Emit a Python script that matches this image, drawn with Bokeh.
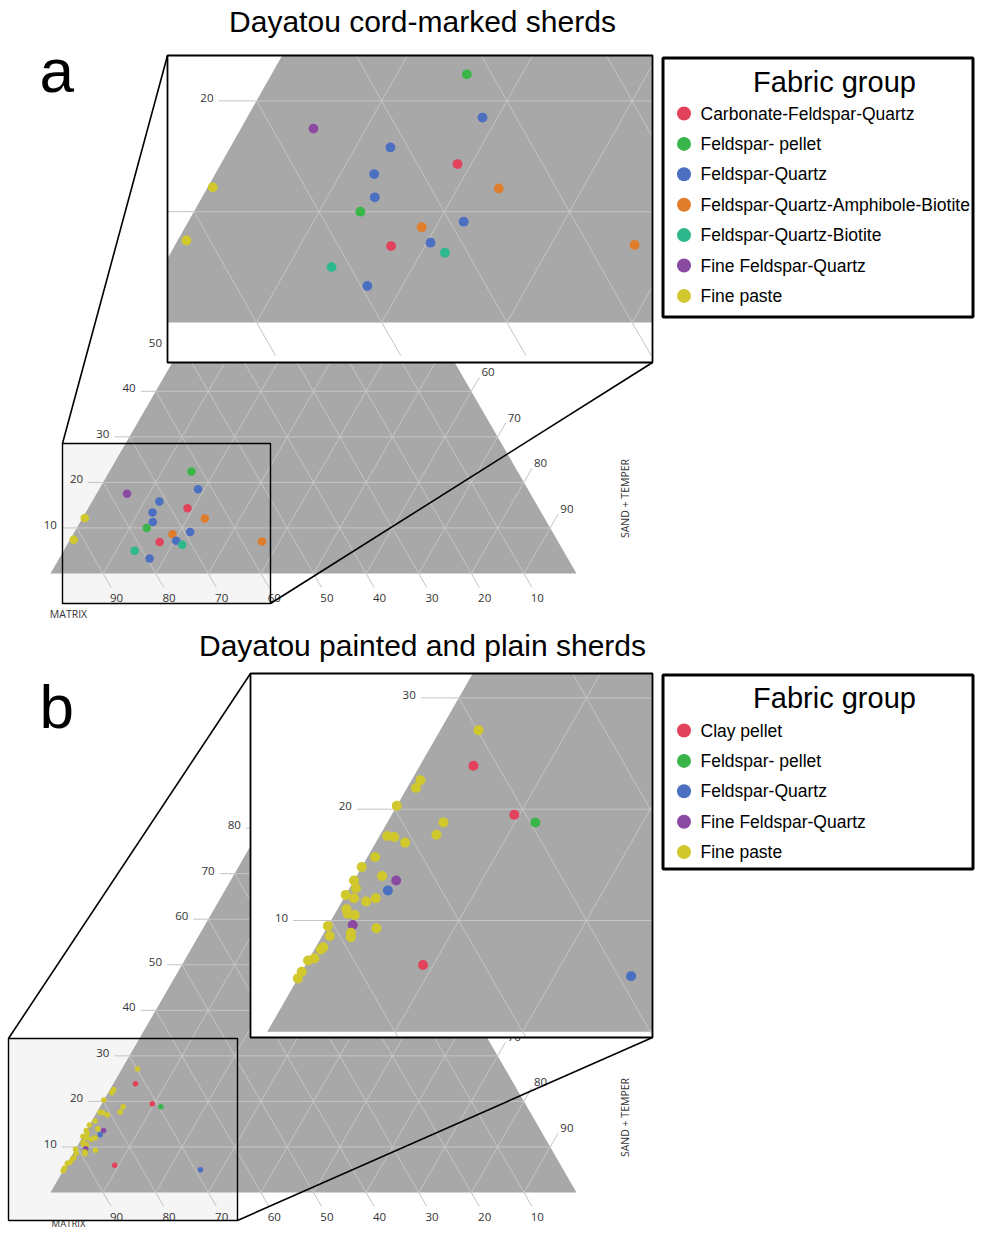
import numpy as np
from bokeh.plotting import figure
from bokeh.models import Range1d
from bokeh.core.properties import value
from bokeh.embed import file_html
from bokeh.resources import INLINE

# ------------------------------------------------------------------ data
# ternary values (percent): apex component, SAND + TEMPER; MATRIX = 100 - apex - sand
groups_a = ["Feldspar- pellet", "Feldspar-Quartz", "Fine Feldspar-Quartz", "Feldspar-Quartz",
            "Carbonate-Feldspar-Quartz", "Feldspar-Quartz", "Fine paste",
            "Feldspar-Quartz-Amphibole-Biotite", "Feldspar-Quartz", "Feldspar- pellet",
            "Feldspar-Quartz", "Feldspar-Quartz-Amphibole-Biotite", "Fine paste", "Feldspar-Quartz",
            "Carbonate-Feldspar-Quartz", "Feldspar-Quartz-Biotite",
            "Feldspar-Quartz-Amphibole-Biotite", "Feldspar-Quartz-Biotite", "Feldspar-Quartz"]
apex_a = [22.4, 18.5, 17.5, 15.8, 14.3, 13.4, 12.2, 12.1, 11.3, 10.0, 9.1, 8.6, 7.4, 7.2, 6.9, 6.3, 7.0, 5.0, 3.3]
sand_a = [15.6, 18.8, 5.8, 12.8, 18.9, 12.7, 0.4, 23.3, 13.8, 13.3, 22.0, 18.9, 0.7, 20.3, 17.3, 21.9, 36.7, 13.5, 17.2]

FP, CP, FPEL, FQ, FFQ = "Fine paste", "Clay pellet", "Feldspar- pellet", "Feldspar-Quartz", "Fine Feldspar-Quartz"
groups_b = [FP, CP, FP, FP, FP, CP, FPEL, FP, FP, FP,
            FP, FP, FP, FP, FP, FFQ, FP, FP, FQ, FP,
            FP, FP, FP, FP, FP, FP, FP, FFQ, FP, FP,
            FP, FP, FP, FP, FP, FP, FP, FP, CP, FQ]
apex_b = [27.1, 23.9, 22.6, 21.9, 20.3, 19.5, 18.8, 18.8, 17.7, 17.6,
          17.5, 17.0, 15.7, 14.8, 14.0, 13.6, 13.6, 12.9, 12.7, 12.3,
          12.0, 11.7, 12.0, 11.0, 10.6, 10.5, 9.5, 9.6, 9.3, 8.9,
          8.5, 8.6, 7.6, 7.4, 6.6, 6.4, 5.4, 4.8, 6.0, 5.0]
sand_b = [3.0, 4.2, 0.7, 0.7, 0.0, 9.6, 11.6, 4.4, 4.4, 0.6,
          1.2, 2.3, 0.6, 0.0, 2.0, 3.3, 0.0, 0.5, 3.1, 0.0,
          0.8, 1.9, 2.5, 0.7, 1.0, 1.6, 0.0, 1.9, 3.9, 2.1,
          2.3, 0.6, 0.6, 0.5, 0.4, 0.0, 0.0, 0.0, 9.2, 26.0]

legend_a = ["Carbonate-Feldspar-Quartz", "Feldspar- pellet", "Feldspar-Quartz",
            "Feldspar-Quartz-Amphibole-Biotite", "Feldspar-Quartz-Biotite",
            "Fine Feldspar-Quartz", "Fine paste"]
legend_b = ["Clay pellet", "Feldspar- pellet", "Feldspar-Quartz", "Fine Feldspar-Quartz", "Fine paste"]

colors = {
    "Carbonate-Feldspar-Quartz": "#e2425c",
    "Clay pellet": "#e2425c",
    "Feldspar- pellet": "#3ab54a",
    "Feldspar-Quartz": "#4b6fc1",
    "Feldspar-Quartz-Amphibole-Biotite": "#e07d2c",
    "Feldspar-Quartz-Biotite": "#2db98d",
    "Fine Feldspar-Quartz": "#8a4aa2",
    "Fine paste": "#d0c82c",
}
tick_values = [10, 20, 30, 40, 50, 60, 70, 80, 90]
title_a = "Dayatou cord-marked sherds"
title_b = "Dayatou painted and plain sherds"

# ------------------------------------------------------------------ helpers
GRAY = "#a8a8a8"
GRID = "#c8c8c8"
TICK = "#c4c4c4"
LABEL = "#333333"
SANS = value("Liberation Sans")
TFONT = value("Open Sans")


def to_xy(h, s, T):
    ox, oy, kx, ky = T
    h = np.asarray(h, float)
    s = np.asarray(s, float)
    return ox + (s + h / 2.0) * kx, oy - h * ky


def clip_seg(x0, y0, x1, y1, box):
    if box is None:
        return (x0, y0, x1, y1)
    xmin, ymin, xmax, ymax = box
    dx, dy = x1 - x0, y1 - y0
    t0, t1 = 0.0, 1.0
    for pp, qq in ((-dx, x0 - xmin), (dx, xmax - x0), (-dy, y0 - ymin), (dy, ymax - y0)):
        if pp == 0:
            if qq < 0:
                return None
        else:
            t = qq / pp
            if pp < 0:
                t0 = max(t0, t)
            else:
                t1 = min(t1, t)
    if t0 >= t1:
        return None
    return (x0 + t0 * dx, y0 + t0 * dy, x0 + t1 * dx, y0 + t1 * dy)


def clip_poly(xs, ys, box):
    pts = list(zip(xs, ys))
    if box is None:
        return [p[0] for p in pts], [p[1] for p in pts]
    xmin, ymin, xmax, ymax = box

    def clip(pts, inside, inter):
        out = []
        n = len(pts)
        for i in range(n):
            cur, prev = pts[i], pts[i - 1]
            if inside(cur):
                if not inside(prev):
                    out.append(inter(prev, cur))
                out.append(cur)
            elif inside(prev):
                out.append(inter(prev, cur))
        return out

    def ix(a, b, xc):
        t = (xc - a[0]) / (b[0] - a[0])
        return (xc, a[1] + t * (b[1] - a[1]))

    def iy(a, b, yc):
        t = (yc - a[1]) / (b[1] - a[1])
        return (a[0] + t * (b[0] - a[0]), yc)

    pts = clip(pts, lambda q: q[0] >= xmin, lambda a, b: ix(a, b, xmin))
    pts = clip(pts, lambda q: q[0] <= xmax, lambda a, b: ix(a, b, xmax))
    pts = clip(pts, lambda q: q[1] >= ymin, lambda a, b: iy(a, b, ymin))
    pts = clip(pts, lambda q: q[1] <= ymax, lambda a, b: iy(a, b, ymax))
    return [p[0] for p in pts], [p[1] for p in pts]


def inside(x, y, box, mx=0, my=0):
    if box is None:
        return True
    xmin, ymin, xmax, ymax = box
    return xmin + mx <= x <= xmax - mx and ymin + my <= y <= ymax - my


def draw_ternary(p, T, groups, apex, sand, dot, box=None, tick_len=15, f=1.0):
    # triangle
    tx, ty = to_xy([0, 0, 100], [0, 100, 0], T)
    cx, cy = clip_poly(list(tx), list(ty), box)
    if cx:
        p.patch(cx, cy, fill_color=GRAY, line_color=None)
    # grid
    gx, gy = [], []
    for v in tick_values:
        for (h0, s0, h1, s1) in ((v, 0, v, 100 - v), (0, v, 100 - v, v), (0, 100 - v, 100 - v, 0)):
            (x0, x1), (y0, y1) = to_xy([h0, h1], [s0, s1], T)
            c = clip_seg(x0, y0, x1, y1, box)
            if c:
                gx.append([c[0], c[2]])
                gy.append([c[1], c[3]])
    p.multi_line(gx, gy, line_color=GRID, line_width=0.9)
    # ticks + labels
    kx, ky = [], []
    lx, ly, lt = [], [], []
    bx, by, bt = [], [], []
    rx, ry, rt = [], [], []
    c60, s60 = 0.5, np.sqrt(3) / 2
    for v in tick_values:
        # left (apex) axis
        x, y = to_xy(v, 0, T)
        x, y = float(x), float(y)
        c = clip_seg(x - tick_len, y, x, y, box)
        if c:
            kx.append([c[0], c[2]]); ky.append([c[1], c[3]])
        ax, ay = x - tick_len - 5, y + 1
        if inside(ax - 14, ay - 8, box) and inside(ax, ay, box):
            lx.append(ax); ly.append(ay); lt.append(str(v))
        # bottom (matrix) axis
        x, y = to_xy(0, 100 - v, T)
        x, y = float(x), float(y)
        c = clip_seg(x, y, x + c60 * 16 * f, y + s60 * 16 * f, box)
        if c:
            kx.append([c[0], c[2]]); ky.append([c[1], c[3]])
        ax, ay = x + 13.4 * f, y + 24.5 * f
        if inside(ax, ay, box, 7, 5):
            bx.append(ax); by.append(ay); bt.append(str(v))
        # right (sand + temper) axis
        x, y = to_xy(100 - v, v, T)
        x, y = float(x), float(y)
        c = clip_seg(x, y, x + c60 * 16 * f, y - s60 * 16 * f, box)
        if c:
            kx.append([c[0], c[2]]); ky.append([c[1], c[3]])
        ax, ay = x + 16.7 * f, y - 19 * f
        if inside(ax, ay, box, 7, 5):
            rx.append(ax); ry.append(ay); rt.append(str(v))
    p.multi_line(kx, ky, line_color=TICK, line_width=1)
    p.text(lx, ly, text=lt, text_align="right", text_baseline="bottom",
           text_font=TFONT, text_font_size="11.5px", text_color=LABEL)
    p.text(bx + rx, by + ry, text=bt + rt, text_align="center", text_baseline="middle",
           text_font=TFONT, text_font_size="11.5px", text_color=LABEL)
    # points
    px, py = to_xy(apex, sand, T)
    keep = [i for i in range(len(px)) if inside(px[i], py[i], box)]
    p.scatter([px[i] for i in keep], [py[i] for i in keep], size=dot,
              fill_color=[colors[groups[i]] for i in keep], line_color=None)


def draw_legend(p, top, bottom, entries, title_mid, first_row):
    p.quad(left=[662.5], right=[972.5], top=[top], bottom=[bottom], fill_color="white",
           line_color="black", line_width=3)
    p.text([834], [title_mid], text=["Fabric group"], text_align="center", text_baseline="middle",
           text_font=SANS, text_font_size="29px", text_color="black")
    ys = [first_row + 30.4 * i for i in range(len(entries))]
    p.scatter([683.5] * len(entries), ys, size=14, fill_color=[colors[e] for e in entries], line_color=None)
    p.text([700] * len(entries), ys, text=entries, text_align="left", text_baseline="middle",
           text_font=SANS, text_font_size="17.5px", text_color="black")


# data coordinates equal picture pixels
p = figure(width=975, height=1230, x_range=Range1d(0, 975), y_range=Range1d(1230, 0),
           output_backend="svg", toolbar_location=None, min_border=0,
           x_axis_location=None, y_axis_location=None)
p.grid.visible = False
p.outline_line_color = None
p.background_fill_color = "white"

panels = [
    dict(T=(50, 573, 5.26, 4.555), TI=(130.8, 322, 12.52, 11.08),
         small=(61, 443, 270, 603), big=(167, 55, 652, 362),
         g=groups_a, h=apex_a, s=sand_a, dot_main=8.5, dot_in=9.8,
         title=title_a, title_y=21, letter="a", letter_y=70,
         leg=legend_a, leg_top=57.5, leg_bot=316.5, leg_title=81, leg_row=113,
         matrix_y=613, matrix_fs="10.5px"),
    dict(T=(50, 1192, 5.26, 4.555), TI=(266.7, 1031.3, 12.77, 11.13),
         small=(7, 1038, 237, 1220), big=(250, 673, 652, 1037),
         g=groups_b, h=apex_b, s=sand_b, dot_main=5.5, dot_in=10,
         title=title_b, title_y=645, letter="b", letter_y=706,
         leg=legend_b, leg_top=674.5, leg_bot=868.5, leg_title=697, leg_row=730,
         matrix_y=1223, matrix_fs="9.5px"),
]

for P in panels:
    sx0, sy0, sx1, sy1 = P["small"]
    bx0, by0, bx1, by1 = P["big"]
    oy = P["T"][1]
    # light highlight of the zoomed area
    p.quad(left=[sx0], right=[sx1], top=[sy0], bottom=[sy1], fill_color="#f5f5f5", line_color=None)
    # main ternary
    draw_ternary(p, P["T"], P["g"], P["h"], P["s"], P["dot_main"])
    p.text([68], [P["matrix_y"]], text=["MATRIX"], text_align="center", text_baseline="middle",
           text_font=TFONT, text_font_size=P["matrix_fs"], text_color=LABEL)
    p.text([624], [oy - 75], text=["SAND + TEMPER"], angle=np.pi / 2, text_align="center",
           text_baseline="middle", text_font=TFONT, text_font_size="10.5px", text_color=LABEL)
    # small box + connectors
    p.quad(left=[sx0 + 1], right=[sx1], top=[sy0], bottom=[sy1], fill_color=None,
           line_color="black", line_width=1.4)
    p.multi_line([[sx0 + 1, bx0], [sx1, bx1]], [[sy0, by0], [sy1, by1]], line_color="black", line_width=1.6)
    # inset
    p.quad(left=[bx0], right=[bx1], top=[by0], bottom=[by1], fill_color="white", line_color=None)
    f = P["TI"][2] / P["T"][2]
    draw_ternary(p, P["TI"], P["g"], P["h"], P["s"], P["dot_in"], box=P["big"], tick_len=38, f=f)
    p.quad(left=[bx0], right=[bx1], top=[by0], bottom=[by1], fill_color=None,
           line_color="black", line_width=1.8)
    # titles
    p.text([422], [P["title_y"]], text=[P["title"]], text_align="center", text_baseline="middle",
           text_font=SANS, text_font_size="30px", text_color="black")
    p.text([39], [P["letter_y"]], text=[P["letter"]], text_align="left", text_baseline="middle",
           text_font=SANS, text_font_size="62px", text_color="black")
    draw_legend(p, P["leg_top"], P["leg_bot"], P["leg"], P["leg_title"], P["leg_row"])

open("out.html", "w").write(file_html(p, INLINE))
